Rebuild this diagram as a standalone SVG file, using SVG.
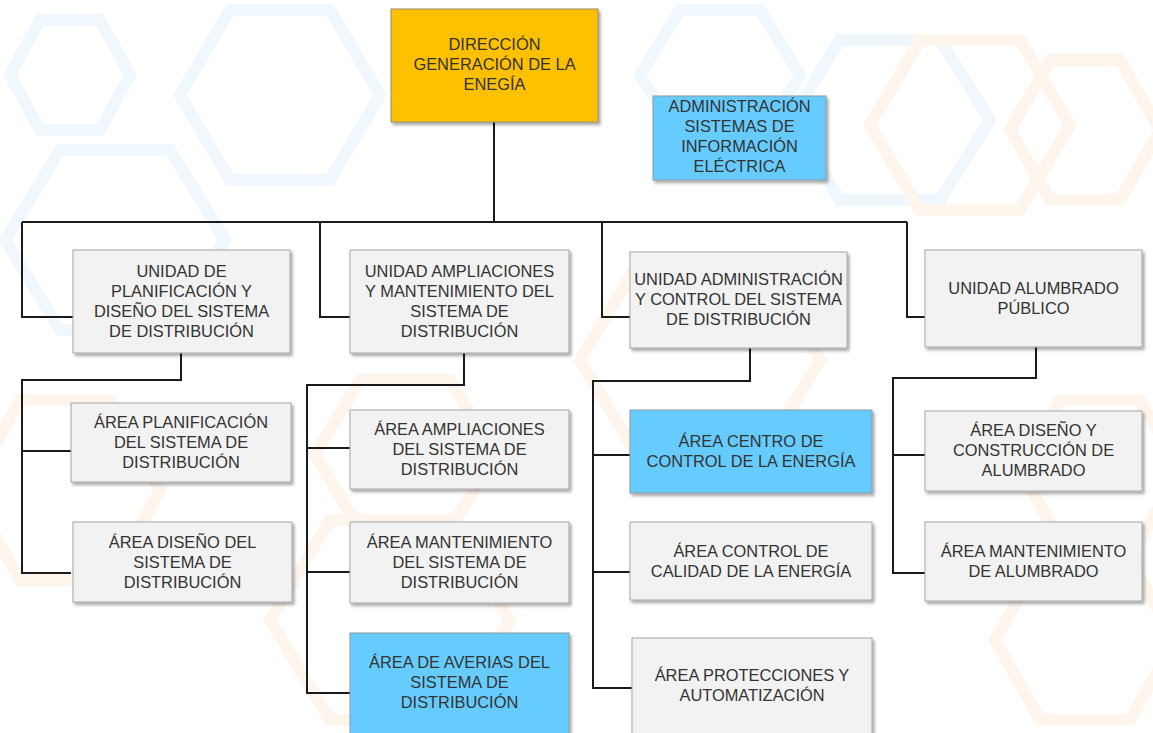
<svg xmlns="http://www.w3.org/2000/svg" width="1153" height="733" viewBox="0 0 1153 733">
<defs>
<filter id="sh" x="-10%" y="-10%" width="125%" height="130%">
<feDropShadow dx="2" dy="2.5" stdDeviation="1.5" flood-color="#000" flood-opacity="0.35"/>
</filter>
<style>
.box{fill:#F2F2F2;stroke:#A6A6A6;stroke-width:1;filter:url(#sh)}
.blue{fill:#66CCFF;stroke:#8a9aa6;stroke-width:1;filter:url(#sh)}
.gold{fill:#FFC000;stroke:#9a8a70;stroke-width:1;filter:url(#sh)}
text{font-family:"Liberation Sans",Arial,sans-serif;font-size:16.4px;fill:#333333;text-anchor:middle}
.ln{fill:none;stroke:#1a1a1a;stroke-width:2}
.hb{fill:none;stroke:#F1F8FD;stroke-width:12}
.ho{fill:none;stroke:#FEF5EC;stroke-width:12}
</style>
</defs>
<rect width="1153" height="733" fill="#FFFFFF"/>
<g id="background">
<polygon class="hb" points="40,20 100,20 130,75 100,130 40,130 10,75"/>
<polygon class="hb" points="230,10 330,10 380,95 330,180 230,180 180,95"/>
<polygon class="hb" points="60,150 170,150 225,240 170,330 60,330 5,240"/>
<polygon class="hb" points="680,10 760,10 800,75 760,140 680,140 640,75"/>
<polygon class="hb" points="840,40 940,40 990,120 940,200 840,200 790,120"/>
<polygon class="ho" points="920,40 1020,40 1070,125 1020,210 920,210 870,125"/>
<polygon class="ho" points="1050,60 1120,60 1160,130 1120,200 1050,200 1010,130"/>
<polygon class="ho" points="360,380 450,380 495,455 450,530 360,530 315,455"/>
<polygon class="ho" points="330,520 450,520 510,620 450,720 330,720 270,620"/>
<polygon class="ho" points="20,400 110,400 160,490 110,580 20,580 -30,490"/>
<polygon class="ho" points="1060,400 1140,400 1180,470 1140,540 1060,540 1020,470"/>
<polygon class="ho" points="1040,560 1130,560 1175,640 1130,720 1040,720 995,640"/>
<polygon class="ho" points="640,260 760,260 820,360 760,460 640,460 580,360"/>
</g>
<g id="connectors">
<path class="ln" d="M494,122 V222 M22,222 H907 M22,222 V317 H73 M320,222 V317 H350 M602,222 V317 H630 M907,222 V317 H925"/>
<path class="ln" d="M181,353 V380 H22 V573 H71 M22,451 H71"/>
<path class="ln" d="M464,353 V385 H307 V693 H350 M307,448 H350 M307,572 H350"/>
<path class="ln" d="M750,348 V381 H593 V688 H632 M593,455 H630 M593,572 H630"/>
<path class="ln" d="M1036,347 V378 H893 V573 H925 M893,455 H925"/>
</g>
<g id="n-direccion">
<rect class="gold" x="391" y="9" width="207" height="113"/>
<text x="494.5" y="50">DIRECCIÓN</text>
<text x="494.5" y="70">GENERACIÓN DE LA</text>
<text x="494.5" y="90">ENEGÍA</text>
</g>
<g id="n-admin-sie">
<rect class="blue" x="653" y="96" width="173" height="84"/>
<text x="739.5" y="112">ADMINISTRACIÓN</text>
<text x="739.5" y="132">SISTEMAS DE</text>
<text x="739.5" y="152">INFORMACIÓN</text>
<text x="739.5" y="172">ELÉCTRICA</text>
</g>
<g id="n-unidad-planificacion">
<rect class="box" x="73" y="250" width="217" height="103"/>
<text x="181.5" y="277">UNIDAD DE</text>
<text x="181.5" y="297">PLANIFICACIÓN Y</text>
<text x="181.5" y="317">DISEÑO DEL SISTEMA</text>
<text x="181.5" y="337">DE DISTRIBUCIÓN</text>
</g>
<g id="n-unidad-ampliaciones">
<rect class="box" x="350" y="250" width="219" height="103"/>
<text x="459.5" y="277">UNIDAD AMPLIACIONES</text>
<text x="459.5" y="297">Y MANTENIMIENTO DEL</text>
<text x="459.5" y="317">SISTEMA DE</text>
<text x="459.5" y="337">DISTRIBUCIÓN</text>
</g>
<g id="n-unidad-administracion">
<rect class="box" x="630" y="252" width="217" height="96"/>
<text x="738.5" y="285">UNIDAD ADMINISTRACIÓN</text>
<text x="738.5" y="305">Y CONTROL DEL SISTEMA</text>
<text x="738.5" y="325">DE DISTRIBUCIÓN</text>
</g>
<g id="n-unidad-alumbrado">
<rect class="box" x="925" y="250" width="217" height="97"/>
<text x="1033.5" y="294">UNIDAD ALUMBRADO</text>
<text x="1033.5" y="314">PÚBLICO</text>
</g>
<g id="n-area-planificacion">
<rect class="box" x="71" y="403" width="220" height="79"/>
<text x="181" y="428">ÁREA PLANIFICACIÓN</text>
<text x="181" y="448">DEL SISTEMA DE</text>
<text x="181" y="468">DISTRIBUCIÓN</text>
</g>
<g id="n-area-diseno">
<rect class="box" x="73" y="522" width="219" height="80"/>
<text x="182.5" y="548">ÁREA DISEÑO DEL</text>
<text x="182.5" y="568">SISTEMA DE</text>
<text x="182.5" y="588">DISTRIBUCIÓN</text>
</g>
<g id="n-area-ampliaciones">
<rect class="box" x="350" y="410" width="219" height="79"/>
<text x="459.5" y="435">ÁREA AMPLIACIONES</text>
<text x="459.5" y="455">DEL SISTEMA DE</text>
<text x="459.5" y="475">DISTRIBUCIÓN</text>
</g>
<g id="n-area-mantenimiento">
<rect class="box" x="350" y="522" width="219" height="81"/>
<text x="459.5" y="548">ÁREA MANTENIMIENTO</text>
<text x="459.5" y="568">DEL SISTEMA DE</text>
<text x="459.5" y="588">DISTRIBUCIÓN</text>
</g>
<g id="n-area-averias">
<rect class="blue" x="350" y="633" width="219" height="105"/>
<text x="459.5" y="668">ÁREA DE AVERIAS DEL</text>
<text x="459.5" y="688">SISTEMA DE</text>
<text x="459.5" y="708">DISTRIBUCIÓN</text>
</g>
<g id="n-area-centro">
<rect class="blue" x="630" y="410" width="242" height="83"/>
<text x="751" y="447">ÁREA CENTRO DE</text>
<text x="751" y="467">CONTROL DE LA ENERGÍA</text>
</g>
<g id="n-area-calidad">
<rect class="box" x="630" y="522" width="242" height="78"/>
<text x="751" y="557">ÁREA CONTROL DE</text>
<text x="751" y="577">CALIDAD DE LA ENERGÍA</text>
</g>
<g id="n-area-protecciones">
<rect class="box" x="632" y="638" width="240" height="100"/>
<text x="752" y="681">ÁREA PROTECCIONES Y</text>
<text x="752" y="701">AUTOMATIZACIÓN</text>
</g>
<g id="n-area-diseno-alumbrado">
<rect class="box" x="925" y="411" width="217" height="80"/>
<text x="1033.5" y="436">ÁREA DISEÑO Y</text>
<text x="1033.5" y="456">CONSTRUCCIÓN DE</text>
<text x="1033.5" y="476">ALUMBRADO</text>
</g>
<g id="n-area-mant-alumbrado">
<rect class="box" x="925" y="522" width="217" height="79"/>
<text x="1033.5" y="557">ÁREA MANTENIMIENTO</text>
<text x="1033.5" y="577">DE ALUMBRADO</text>
</g>
</svg>
